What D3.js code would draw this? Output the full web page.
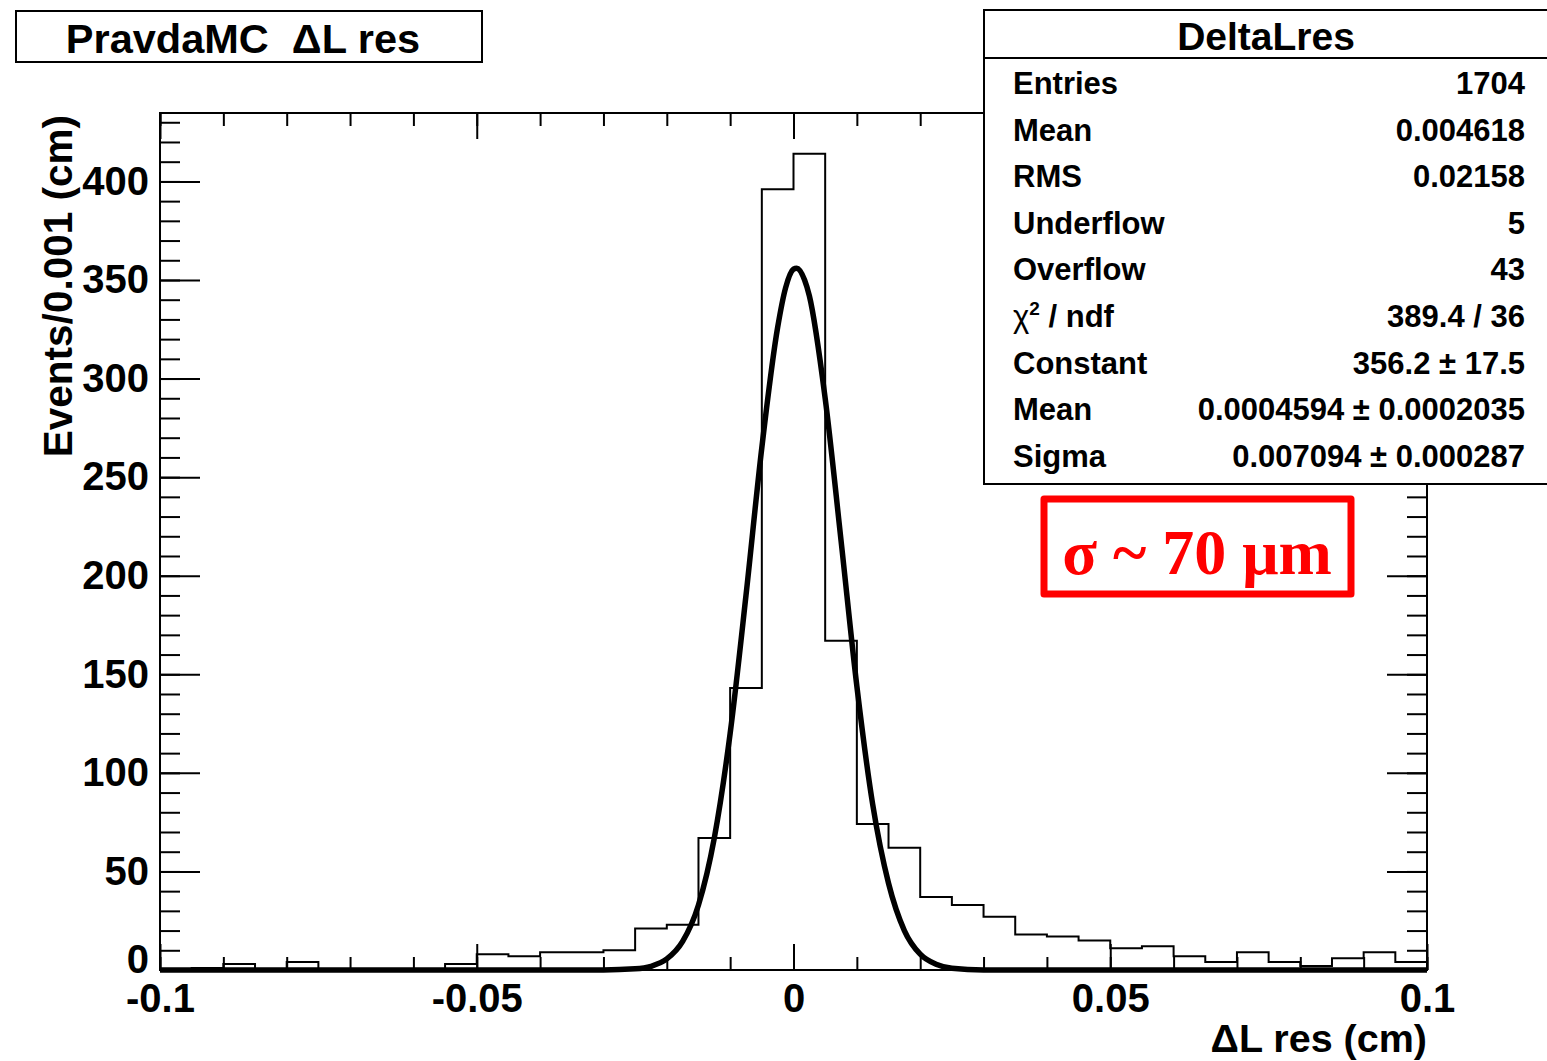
<!DOCTYPE html>
<html>
<head>
<meta charset="utf-8">
<script src="https://cdn.jsdelivr.net/npm/d3@7"></script>
<style>
  html, body { margin: 0; padding: 0; background: #fff; }
  svg { display: block; }
  text { font-family: "Liberation Sans", Arial, Helvetica, sans-serif; font-weight: bold; fill: #000; }
</style>
</head>
<body>
<div id="chart"></div>
<script>
// histogram: 40 bins of 0.005 cm from -0.1 to 0.1
const binStart = -0.1;
const binWidth = 0.005;
const binCounts = [0, 1, 3, 0, 4, 0, 0, 0, 0, 3,
                   8, 7, 9, 9, 10, 21, 23, 67, 143, 396,
                   414, 167, 74, 62, 37, 33, 27, 18, 17, 15,
                   11, 12, 7, 4, 9, 4, 2, 6, 9, 4];

// gaussian fit curve
const fitX = [-0.1, -0.03, -0.025, -0.0225, -0.02, -0.0175, -0.015, -0.0125, -0.01, -0.0075,
              -0.005, -0.0025, -0.00125, 0, 0.0005, 0.00175, 0.0025, 0.005, 0.0075, 0.01,
              0.0125, 0.015, 0.0175, 0.02, 0.0225, 0.025, 0.03, 0.1];
const fitY = [0, 0.05, 0.6, 1.9, 5.6, 14.5, 33, 67, 120, 190,
              265, 326, 346, 355.5, 356, 350, 342, 290, 218, 144,
              84, 44, 20, 8, 2.9, 0.9, 0.06, 0];

const xMajor = [-0.1, -0.05, 0, 0.05, 0.1];
const xTickLabels = ["-0.1", "-0.05", "0", "0.05", "0.1"];
const yMajor = [0, 50, 100, 150, 200, 250, 300, 350, 400];
const yTickLabels = ["0", "50", "100", "150", "200", "250", "300", "350", "400"];

const statTitle = "DeltaLres";
const statLabels = ["Entries", "Mean", "RMS", "Underflow", "Overflow", "χ² / ndf", "Constant", "Mean", "Sigma"];
const statValues = ["1704", "0.004618", "0.02158", "5", "43", "389.4 / 36", "356.2 ± 17.5",
                    "0.0004594 ± 0.0002035", "0.007094 ± 0.000287"];

const width = 1547, height = 1061;
const frame = { left: 160, right: 1427, top: 113, bottom: 970 };

const svg = d3.select("#chart").append("svg")
  .attr("width", width)
  .attr("height", height);

const x = d3.scaleLinear().domain([-0.1, 0.1]).range([frame.left, frame.right]);
const y = d3.scaleLinear().domain([0, 434.7]).range([frame.bottom, frame.top]);

function styleAxis(g) {
  g.select(".domain").remove();
  g.attr("font-size", null).attr("font-family", null);
  g.selectAll(".tick line").attr("stroke", "#000").attr("stroke-width", 2);
  g.selectAll(".tick text").style("font-size", "40px");
}

// frame
svg.append("rect")
  .attr("x", frame.left).attr("y", frame.top)
  .attr("width", frame.right - frame.left)
  .attr("height", frame.bottom - frame.top)
  .attr("fill", "none").attr("stroke", "#000").attr("stroke-width", 2);

// bottom axis
svg.append("g")
  .attr("transform", `translate(0,${frame.bottom})`)
  .call(d3.axisBottom(x).ticks(20).tickSize(-13).tickFormat(""))
  .call(styleAxis);
svg.append("g")
  .attr("transform", `translate(0,${frame.bottom})`)
  .call(d3.axisBottom(x).tickValues(xMajor).tickSize(-26).tickPadding(14)
    .tickFormat((d, i) => xTickLabels[i]))
  .call(styleAxis);

// top axis
svg.append("g")
  .attr("transform", `translate(0,${frame.top})`)
  .call(d3.axisTop(x).ticks(20).tickSize(-13).tickFormat(""))
  .call(styleAxis);
svg.append("g")
  .attr("transform", `translate(0,${frame.top})`)
  .call(d3.axisTop(x).tickValues(xMajor).tickSize(-26).tickFormat(""))
  .call(styleAxis);

// left axis
svg.append("g")
  .attr("transform", `translate(${frame.left},0)`)
  .call(d3.axisLeft(y).ticks(40).tickSize(-20).tickFormat(""))
  .call(styleAxis);
const yAxisG = svg.append("g")
  .attr("transform", `translate(${frame.left},0)`)
  .call(d3.axisLeft(y).tickValues(yMajor).tickSize(-40).tickPadding(11)
    .tickFormat((d, i) => yTickLabels[i]))
  .call(styleAxis);
// the "0" label sits just above "-0.1"
yAxisG.selectAll(".tick text").filter(d => d === 0).attr("dy", "0.05em");

// right axis
svg.append("g")
  .attr("transform", `translate(${frame.right},0)`)
  .call(d3.axisRight(y).ticks(40).tickSize(-20).tickFormat(""))
  .call(styleAxis);
svg.append("g")
  .attr("transform", `translate(${frame.right},0)`)
  .call(d3.axisRight(y).tickValues(yMajor).tickSize(-40).tickFormat(""))
  .call(styleAxis);

// histogram outline
const steps = [[binStart, 0]];
binCounts.forEach((c, i) => {
  steps.push([binStart + i * binWidth, c]);
  steps.push([binStart + (i + 1) * binWidth, c]);
});
steps.push([binStart + binCounts.length * binWidth, 0]);

svg.append("path")
  .datum(steps)
  .attr("fill", "none")
  .attr("stroke", "#000")
  .attr("stroke-width", 2)
  .attr("d", d3.line().x(d => x(d[0])).y(d => y(d[1])));

// fit curve
svg.append("path")
  .datum(fitX.map((v, i) => [v, fitY[i]]))
  .attr("fill", "none")
  .attr("stroke", "#000")
  .attr("stroke-width", 5.5)
  .attr("stroke-linejoin", "round")
  .attr("d", d3.line().x(d => x(d[0])).y(d => y(d[1])).curve(d3.curveMonotoneX));

// axis titles
svg.append("text")
  .attr("x", frame.right)
  .attr("y", 1052)
  .attr("text-anchor", "end")
  .style("font-size", "39.5px")
  .text("ΔL res (cm)");

svg.append("text")
  .attr("transform", `translate(72,${frame.top + 2}) rotate(-90)`)
  .attr("text-anchor", "end")
  .style("font-size", "40.5px")
  .text("Events/0.001 (cm)");

// stats box
const stat = svg.append("g");
stat.append("rect")
  .attr("x", 984).attr("y", 10)
  .attr("width", 564).attr("height", 474)
  .attr("fill", "#fff").attr("stroke", "#000").attr("stroke-width", 2);
stat.append("line")
  .attr("x1", 984).attr("x2", 1548)
  .attr("y1", 58).attr("y2", 58)
  .attr("stroke", "#000").attr("stroke-width", 2);
stat.append("text")
  .attr("x", 1266).attr("y", 50)
  .attr("text-anchor", "middle")
  .style("font-size", "39px")
  .text(statTitle);

statLabels.forEach((lab, i) => {
  const yy = 94 + i * 46.6;
  const t = stat.append("text")
    .attr("x", 1013).attr("y", yy)
    .style("font-size", "31px");
  if (lab.startsWith("χ²")) {
    t.append("tspan").style("font-weight", "normal").text("χ");
    t.append("tspan").attr("dy", -12).style("font-size", "19px").text("2");
    t.append("tspan").attr("dy", 12).text(" / ndf");
  } else {
    t.text(lab);
  }
  stat.append("text")
    .attr("x", 1525).attr("y", yy)
    .attr("text-anchor", "end")
    .style("font-size", "31px")
    .text(statValues[i]);
});

// sigma annotation
svg.append("rect")
  .attr("x", 1044).attr("y", 499)
  .attr("width", 307).attr("height", 95)
  .attr("fill", "none")
  .attr("stroke", "#ff0000").attr("stroke-width", 7)
  .attr("stroke-linejoin", "round");
svg.append("text")
  .attr("x", 1197).attr("y", 574)
  .attr("text-anchor", "middle")
  .style("font-family", "'Liberation Serif', 'Times New Roman', serif")
  .style("font-size", "64px")
  .style("fill", "#ff0000")
  .text("σ ~ 70 μm");

// title box
svg.append("rect")
  .attr("x", 16).attr("y", 11)
  .attr("width", 466).attr("height", 51)
  .attr("fill", "#fff").attr("stroke", "#000").attr("stroke-width", 2);
svg.append("text")
  .attr("x", 243).attr("y", 53)
  .attr("text-anchor", "middle")
  .style("font-size", "41.5px")
  .style("white-space", "pre")
  .text("PravdaMC  ΔL res");
</script>
</body>
</html>
